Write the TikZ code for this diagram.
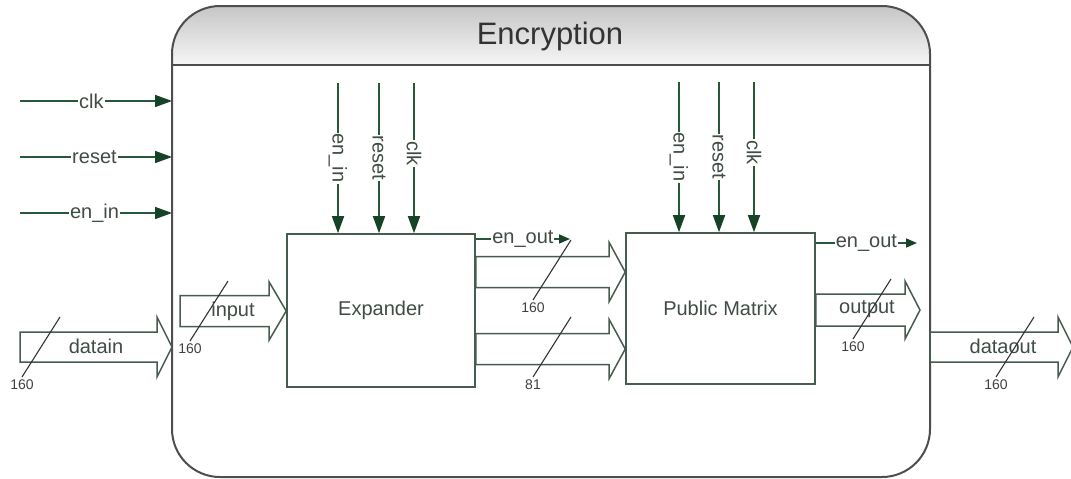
\documentclass[tikz,border=0pt]{standalone}
\usepackage{fontspec}
\setmainfont{Liberation Sans}
\usetikzlibrary{arrows.meta,calc}

\definecolor{sigcol}{RGB}{38,88,58}
\definecolor{tipcol}{RGB}{22,66,40}
\definecolor{boxcol}{RGB}{70,92,78}
\definecolor{txtcol}{RGB}{64,76,68}
\definecolor{framecol}{RGB}{78,78,78}
\definecolor{hdrtop}{RGB}{198,198,198}
\definecolor{hdrbot}{RGB}{246,246,246}

\tikzset{
  sig/.style={draw=sigcol, line width=1.6pt, -{Triangle[length=17pt,width=12pt,color=tipcol]}},
  sigsmall/.style={draw=sigcol, line width=1.6pt, -{Triangle[length=11pt,width=9pt,color=tipcol]}},
  siglabel/.style={fill=white, inner sep=1pt, text=txtcol, font=\fontsize{20}{23}\selectfont},
  block/.style={draw=boxcol, line width=1.6pt, fill=white, text=txtcol, font=\fontsize{20}{24}\selectfont},
  busline/.style={draw=boxcol, line width=1.5pt, fill=white},
  buslabel/.style={text=txtcol, font=\fontsize{20}{24}\selectfont, inner sep=0pt},
  slash/.style={draw=black!80, line width=1.1pt},
  numlabel/.style={text=black!75, font=\fontsize{14}{16}\selectfont, inner sep=1pt},
  framebox/.style={draw=framecol, line width=2pt, rounded corners=48pt},
}

% hollow bus arrow: start, tip, half body height, half head height, head length
\newcommand\busarrow[5]{%
  \draw[busline] ($(#1)+(0,#3)$) -- ($(#2)+(-#5,#3)$) -- ($(#2)+(-#5,#4)$) -- (#2)
    -- ($(#2)+(-#5,-#4)$) -- ($(#2)+(-#5,-#3)$) -- ($(#1)+(0,-#3)$) -- cycle;}

% bus width mark: name, centre, label
\newcommand\busslash[3]{%
  \coordinate (#1lo) at ($(#2)+(-19,30)$);
  \coordinate (#1hi) at ($(#2)+(19,-30)$);
  \draw[slash] (#1lo) -- (#1hi);
  \node[numlabel, below=2pt] (#1num) at (#1lo) {#3};}

\begin{document}
\begin{tikzpicture}[x=1pt, y=-1pt]
\useasboundingbox (0,0) rectangle (1071,479);

% outer module frame
\path node[minimum width=758pt, minimum height=471pt, outer sep=0pt, inner sep=0pt] (enc) at (551,241.5) {};
\coordinate (hdr) at (0,65);
\begin{scope}
  \clip[rounded corners=48pt] (enc.south west) rectangle (enc.north east);
  \shade[top color=hdrtop, bottom color=hdrbot] (enc.north west) rectangle (enc.east |- hdr);
\end{scope}
\draw[draw=framecol, line width=2.6pt] (enc.west |- hdr) -- (enc.east |- hdr);
\draw[framebox] (enc.south west) rectangle (enc.north east);
\node[text=black!80, font=\fontsize{31}{35}\selectfont] (title) at (550,36) {Encryption};

% inner blocks
\node[block, minimum width=188pt, minimum height=153pt] (exp) at (381,310.5) {Expander};
\node[block, minimum width=189pt, minimum height=151pt] (pm) at (720.5,308.5) {Public Matrix};

% module-level control inputs
\coordinate (lclk) at (20,101);
\coordinate (lrst) at (20,157);
\coordinate (len) at (20,213);
\draw[sig] (lclk) -- (lclk -| enc.west) node[siglabel, pos=0.47] {clk};
\draw[sig] (lrst) -- (lrst -| enc.west) node[siglabel, pos=0.49] {reset};
\draw[sig] (len) -- (len -| enc.west) node[siglabel, pos=0.49] {en\_in};

% expander control inputs
\coordinate (xen) at (338,83);
\coordinate (xrst) at (379,83);
\coordinate (xclk) at (414,83);
\draw[sig] (xen) -- (xen |- exp.north) node[siglabel, pos=0.5, rotate=-90] {en\_in};
\draw[sig] (xrst) -- (xrst |- exp.north) node[siglabel, pos=0.5, rotate=-90] {reset};
\draw[sig] (xclk) -- (xclk |- exp.north) node[siglabel, pos=0.47, rotate=-90] {clk};

% public matrix control inputs
\coordinate (pen) at (679,82);
\coordinate (prst) at (719,82);
\coordinate (pclk) at (754,82);
\draw[sig] (pen) -- (pen |- pm.north) node[siglabel, pos=0.5, rotate=-90] {en\_in};
\draw[sig] (prst) -- (prst |- pm.north) node[siglabel, pos=0.5, rotate=-90] {reset};
\draw[sig] (pclk) -- (pclk |- pm.north) node[siglabel, pos=0.47, rotate=-90] {clk};

% enable outputs
\coordinate (xoe) at (570,239);
\coordinate (poe) at (917,243);
\draw[sigsmall] (exp.east |- xoe) -- (xoe) node[siglabel, pos=0.5] {en\_out};
\draw[sigsmall] (pm.east |- poe) -- (poe) node[siglabel, pos=0.5] {en\_out};

% data buses
\coordinate (din) at (20,347);
\coordinate (iin) at (180,311);
\coordinate (b1) at (0,272);
\coordinate (b2) at (0,349);
\coordinate (oend) at (920,310);
\coordinate (dend) at (1073,347);

\busarrow{din}{din -| enc.west}{15}{30}{15}
\node[buslabel] (dinl) at (96,346) {datain};
\busslash{s1}{41,347}{160}

\busarrow{iin}{iin -| exp.west}{15.5}{29}{17}
\node[buslabel] (inl) at (233,311) {input};
\busslash{s2}{209,311}{160}

\busarrow{exp.east |- b1}{pm.west |- b1}{15.5}{29.5}{16}
\busarrow{exp.east |- b2}{pm.west |- b2}{15.5}{29.5}{16}
\busslash{s3}{552,270}{160}
\busslash{s4}{552,347}{81}

\busarrow{pm.east |- oend}{oend}{16}{29}{15}
\node[buslabel] (outl) at (867,309) {output};
\busslash{s5}{872,309}{160}

\busarrow{enc.east |- dend}{dend}{15}{30}{15}
\node[buslabel] (doutl) at (1003,346) {dataout};
\busslash{s6}{1015,347}{160}

\end{tikzpicture}
\end{document}
